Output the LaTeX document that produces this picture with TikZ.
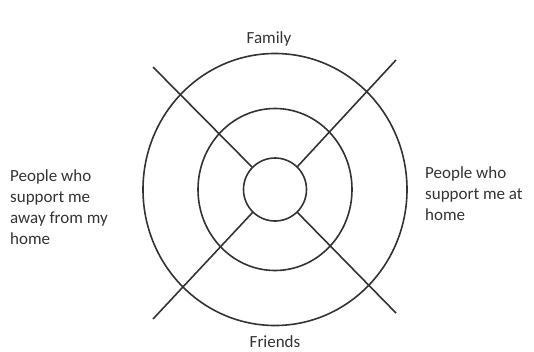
\documentclass[tikz,border=0pt]{standalone}
\usepackage{fontspec}
\setmainfont{Carlito}
\begin{document}
\begin{tikzpicture}[x=1pt,y=-1pt,
  ring/.style={draw=black!80,line width=1.6pt},
  spoke/.style={draw=black!80,line width=1.6pt},
  lbl/.style={text=black!80,font=\fontsize{17}{21}\selectfont,inner sep=0pt,align=left}]
\useasboundingbox (0,0) rectangle (534,351);
\coordinate (c) at (275,189.5);
\draw[ring] (c) ellipse [x radius=132, y radius=136];
\draw[ring] (c) ellipse [x radius=77, y radius=81];
\draw[ring] (c) circle [radius=31.5];
\coordinate (nwi) at (252,167); \coordinate (nwo) at (153,67);
\coordinate (nei) at (297,167); \coordinate (neo) at (396,60);
\coordinate (swi) at (253,212); \coordinate (swo) at (153,319);
\coordinate (sei) at (297,212); \coordinate (seo) at (396,313);
\draw[spoke] (nwi) -- (nwo);
\draw[spoke] (nei) -- (neo);
\draw[spoke] (swi) -- (swo);
\draw[spoke] (sei) -- (seo);
\node[lbl] (fam) at (269,39) {Family};
\node[lbl] (fri) at (275,342) {Friends};
\node[lbl,anchor=west] (left) at (10,207) {People who\\support me\\away from my\\home};
\node[lbl,anchor=west] (right) at (425,194) {People who\\support me at\\home};
\end{tikzpicture}
\end{document}
